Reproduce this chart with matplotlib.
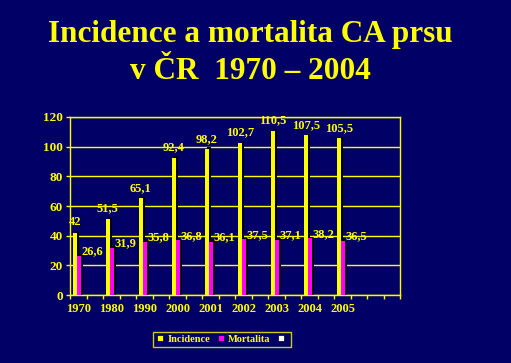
import matplotlib
matplotlib.use('Agg')
import matplotlib.pyplot as plt
from matplotlib.lines import Line2D
import numpy as np

# data
years = ['1970', '1980', '1990', '2000', '2001', '2002', '2003', '2004', '2005']
incidence = [42, 51.5, 65.1, 92.4, 98.2, 102.7, 110.5, 107.5, 105.5]
mortalita = [26.6, 31.9, 35.8, 36.8, 36.1, 37.5, 37.1, 38.2, 36.5]
yticks = [0, 20, 40, 60, 80, 100, 120]

bg = '#000066'
yellow = '#FFFF00'
magenta = '#FF00FF'
serif = ['Liberation Serif', 'DejaVu Serif']

plt.rcParams['font.family'] = serif

fig = plt.figure(figsize=(5.11, 3.63), dpi=100, facecolor=bg)
ax = fig.add_axes([0.137, 0.187, 0.646, 0.491], facecolor=bg)

x = np.arange(len(years))
w = 0.12
# black "3d" shadow behind each bar
ax.bar(x + 0.09 + 0.05, np.array(incidence) + 1.2, w, align='edge', color='black', zorder=2)
ax.bar(x + 0.21 + 0.05, np.array(mortalita) + 1.2, w, align='edge', color='black', zorder=2)
ax.bar(x + 0.09, incidence, w, align='edge', color=yellow, zorder=3)
ax.bar(x + 0.21, mortalita, w, align='edge', color=magenta, zorder=3)

fmt = lambda v: f"{v:g}".replace('.', ',')
for i in range(len(years)):
    ax.text(x[i] + 0.14, incidence[i] + 7, fmt(incidence[i]), color=yellow,
            fontsize=9, fontweight='bold', ha='center', va='center', zorder=4)
    ax.text(x[i] + 0.34, mortalita[i] + 3, fmt(mortalita[i]), color=yellow,
            fontsize=9, fontweight='bold', ha='left', va='center', zorder=4)

ax.set_xlim(0, 10)
ax.set_ylim(0, 120)
ax.set_yticks(yticks)
ax.set_yticklabels([str(t) for t in yticks], fontsize=9.5, fontweight='bold', color=yellow)
ax.set_xticks(x + 0.26)
ax.set_xticklabels(years, fontsize=9, fontweight='bold', color=yellow)
ax.tick_params(axis='x', length=0, pad=6)
ax.set_xticks(np.arange(0, 10.01, 0.5), minor=True)
ax.tick_params(axis='x', which='minor', length=3, color=yellow, width=1)
ax.tick_params(axis='y', length=3, color=yellow, width=1, pad=2)
ax.grid(axis='y', color=yellow, linewidth=1, zorder=1)
ax.set_axisbelow(True)
for sp in ax.spines.values():
    sp.set_color(yellow)
    sp.set_linewidth(1)

fig.text(0.49, 0.883, 'Incidence a mortalita CA prsu', color=yellow, fontsize=22.5,
         fontweight='bold', ha='center', va='baseline')
fig.text(0.49, 0.783, 'v ČR  1970 – 2004', color=yellow, fontsize=22.5,
         fontweight='bold', ha='center', va='baseline')

handles = [Line2D([], [], marker='s', linestyle='', markersize=5, markerfacecolor=c,
                  markeredgecolor='black', markeredgewidth=0.5)
           for c in [yellow, magenta, 'white']]
leg = fig.legend(handles, ['Incidence', 'Mortalita', ''], loc='center',
                 bbox_to_anchor=(0.435, 0.065), ncol=3, frameon=True,
                 facecolor=bg, edgecolor=yellow, fancybox=False,
                 prop={'family': serif, 'weight': 'bold', 'size': 7.5},
                 handlelength=0.8, handletextpad=0.3, columnspacing=0.6,
                 borderpad=0.3, borderaxespad=0)
leg.get_frame().set_linewidth(1)
for t in leg.get_texts():
    t.set_color(yellow)

fig.savefig('out.png', dpi=100, facecolor=bg)
